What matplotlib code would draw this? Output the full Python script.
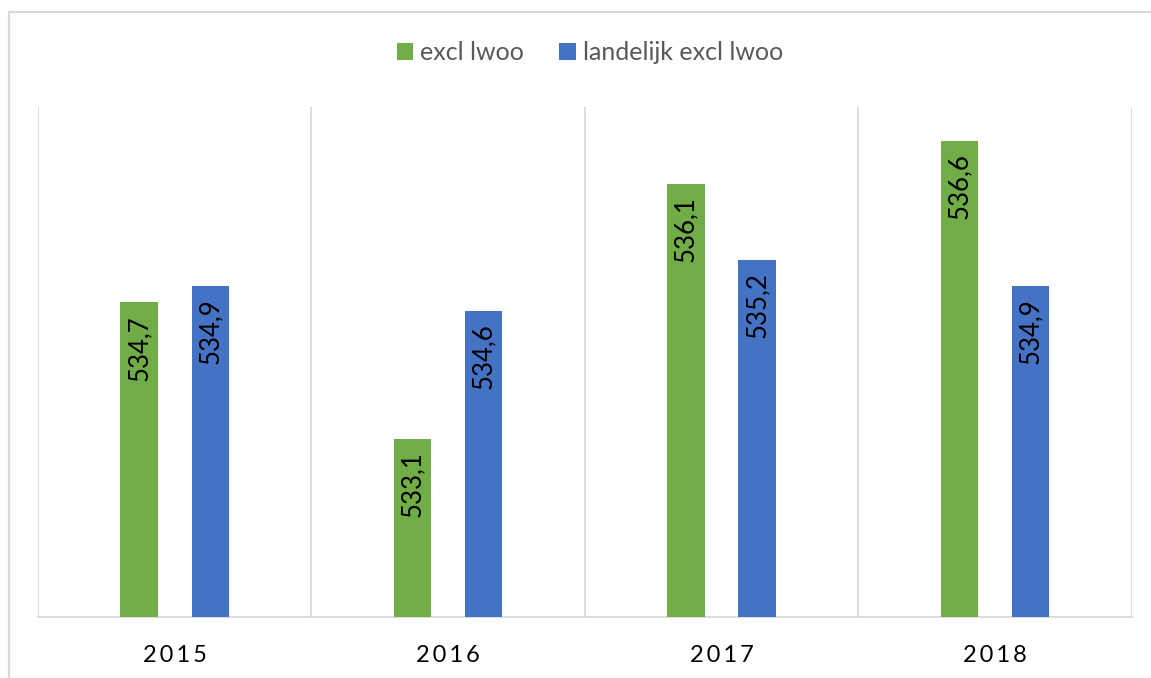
import matplotlib
matplotlib.use("Agg")
import matplotlib.pyplot as plt
from matplotlib.patches import Rectangle, Patch

years = ["2015", "2016", "2017", "2018"]
excl_lwoo = [534.7, 533.1, 536.1, 536.6]
landelijk_excl_lwoo = [534.9, 534.6, 535.2, 534.9]
series_names = ["excl lwoo", "landelijk excl lwoo"]
value_labels_excl = ["534,7", "533,1", "536,1", "536,6"]
value_labels_land = ["534,9", "534,6", "535,2", "534,9"]

GREEN = "#70AD47"
BLUE = "#4472C4"
GRID = "#D9D9D9"
FONT = ["Lato", "DejaVu Sans"]

W, H = 1151, 678
fig = plt.figure(figsize=(W / 100, H / 100), dpi=100)
fig.patch.set_facecolor("white")

# outer chart border (extends beyond right/bottom edges)
fig.patches.append(Rectangle((8.5 / W, -0.2), 1.5, 1 - 11.5 / H + 0.2,
                             transform=fig.transFigure, fill=False,
                             edgecolor=GRID, linewidth=1.6, zorder=0))

left, right, top, bottom = 38, 1131.5, 107, 617
ax = fig.add_axes([left / W, (H - bottom) / H, (right - left) / W, (bottom - top) / H])

x = list(range(len(years)))
off = 0.13
bw = 0.137
b1 = ax.bar([i - off for i in x], excl_lwoo, width=bw, color=GREEN, zorder=3)
b2 = ax.bar([i + off for i in x], landelijk_excl_lwoo, width=bw, color=BLUE, zorder=3)

ax.set_ylim(531, 537)
ax.set_xlim(-0.5, len(years) - 0.5)

for s in ["top", "left", "right"]:
    ax.spines[s].set_visible(False)
ax.spines["bottom"].set_color(GRID)
ax.spines["bottom"].set_linewidth(1.3)
ax.set_yticks([])
for xv in [i - 0.5 for i in range(len(years) + 1)]:
    ax.axvline(xv, color=GRID, linewidth=1.3, zorder=1)

ax.set_xticks(x)
ax.set_xticklabels(["\u2009".join(y) for y in years], family=FONT, fontsize=17, color="black")
ax.tick_params(axis="x", length=0, pad=20)

for bars, labels in [(b1, value_labels_excl), (b2, value_labels_land)]:
    for rect, lab in zip(bars, labels):
        ax.annotate(lab, (rect.get_x() + rect.get_width() / 2, rect.get_height()),
                    xytext=(0, -9), textcoords="offset points", rotation=90,
                    ha="center", va="top", fontsize=18.5, family=FONT, color="black", zorder=4)

handles = [Patch(facecolor=GREEN, edgecolor="none"), Patch(facecolor=BLUE, edgecolor="none")]
leg = fig.legend(handles, series_names, loc="center", bbox_to_anchor=(590 / W, 1 - 53 / H),
                 ncol=2, frameon=False, handlelength=0.65, handleheight=0.65,
                 handletextpad=0.3, columnspacing=1.4,
                 prop={"family": FONT, "size": 18})
for t in leg.get_texts():
    t.set_color("#595959")

fig.savefig("out.png", dpi=100, facecolor="white")
